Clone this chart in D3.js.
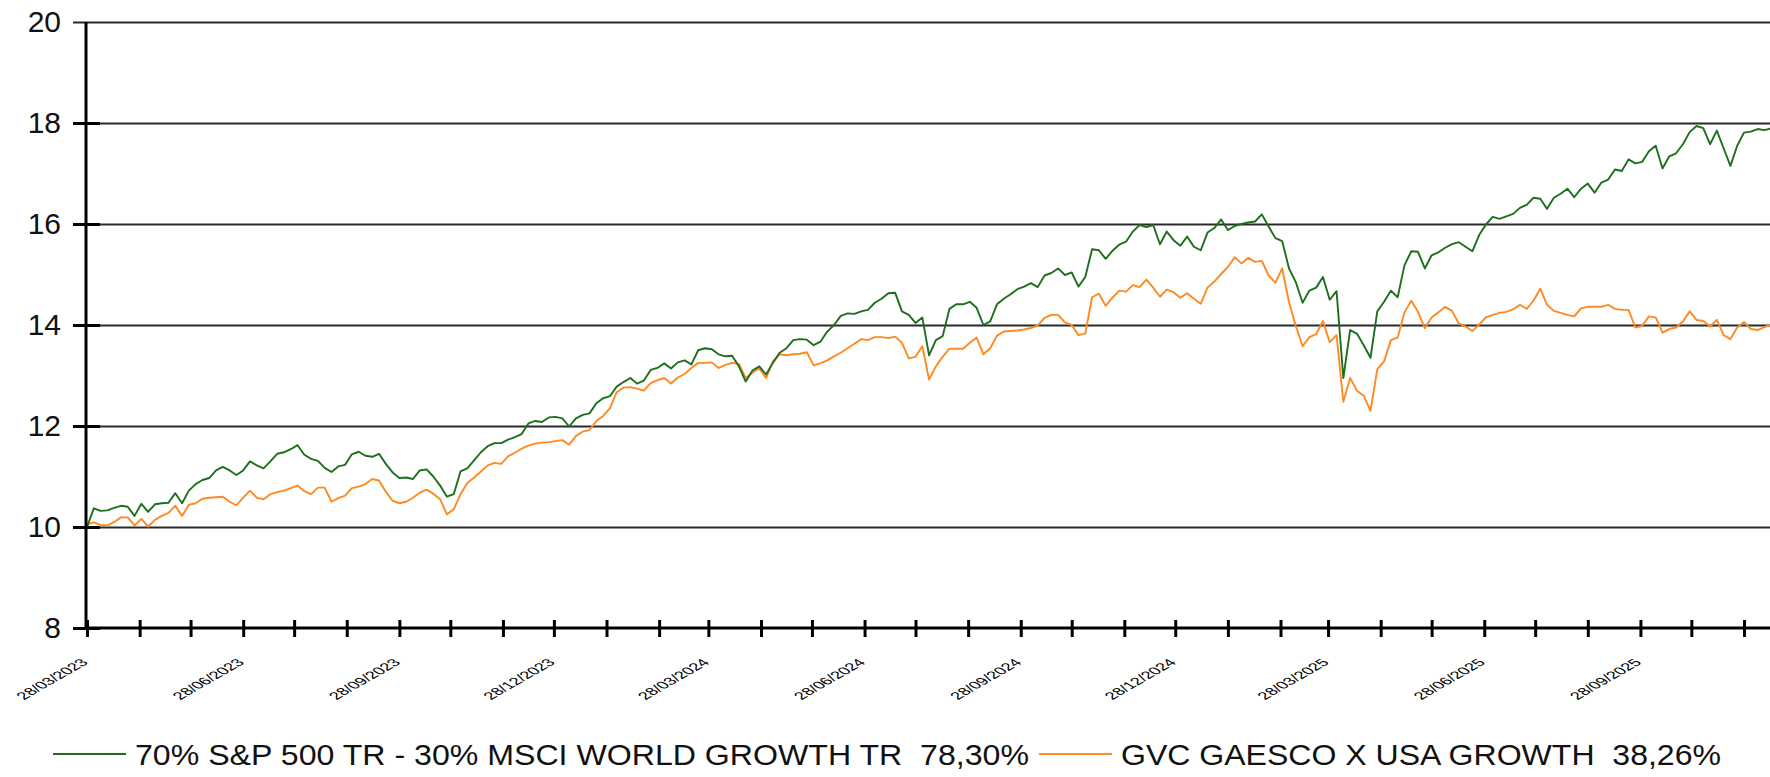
<!DOCTYPE html>
<html><head><meta charset="utf-8">
<script src="https://cdn.jsdelivr.net/npm/d3@7"></script>
<style>
body{margin:0;background:#fff}
svg{display:block}
text{font-family:"Liberation Sans",Arial,sans-serif}
</style>
</head><body>
<svg id="chart" width="1770" height="777"></svg>
<script>
// ---- data ----
const startDate = "2023-03-28";   // first observation
const stepDays = 4;               // sampling step of the series below
const seriesNames = ["70% S&P 500 TR - 30% MSCI WORLD GROWTH TR  78,30%", "GVC GAESCO X USA GROWTH  38,26%"];
const benchmarkValues = [
10.00,10.37,10.32,10.33,10.38,10.42,10.40,10.22,10.46,10.30,10.45,10.47,10.48,10.67,10.47,10.72,10.85,10.93,10.97,11.12,
11.19,11.12,11.03,11.12,11.30,11.22,11.16,11.30,11.45,11.48,11.54,11.62,11.43,11.35,11.31,11.17,11.09,11.20,11.23,11.44,
11.49,11.41,11.39,11.45,11.25,11.08,10.97,10.98,10.95,11.12,11.14,11.00,10.82,10.60,10.65,11.10,11.16,11.32,11.48,11.60,
11.66,11.66,11.73,11.78,11.84,12.05,12.10,12.08,12.17,12.18,12.15,11.99,12.15,12.22,12.25,12.45,12.55,12.59,12.78,12.87,
12.95,12.84,12.90,13.11,13.15,13.24,13.14,13.26,13.30,13.22,13.50,13.54,13.52,13.42,13.38,13.39,13.18,12.88,13.10,13.18,
13.02,13.25,13.45,13.54,13.70,13.72,13.71,13.60,13.67,13.87,14.00,14.18,14.23,14.22,14.27,14.30,14.44,14.52,14.63,14.64,
14.27,14.20,14.04,14.15,13.40,13.70,13.78,14.32,14.41,14.41,14.46,14.34,14.00,14.07,14.41,14.52,14.61,14.71,14.76,14.83,
14.75,14.98,15.03,15.12,14.99,15.04,14.76,14.95,15.50,15.48,15.31,15.47,15.59,15.65,15.85,15.98,15.94,15.98,15.60,15.85,
15.68,15.57,15.75,15.55,15.48,15.83,15.92,16.09,15.88,15.96,16.00,16.03,16.05,16.19,15.95,15.72,15.66,15.12,14.85,14.44,
14.68,14.74,14.95,14.50,14.67,12.95,13.90,13.83,13.60,13.35,14.27,14.46,14.68,14.55,15.18,15.46,15.45,15.12,15.38,15.44,
15.53,15.60,15.64,15.55,15.46,15.78,15.99,16.14,16.10,16.15,16.20,16.32,16.38,16.52,16.50,16.30,16.52,16.60,16.70,16.53,
16.70,16.80,16.62,16.82,16.88,17.08,17.05,17.28,17.20,17.23,17.44,17.55,17.10,17.34,17.40,17.58,17.82,17.94,17.90,17.58,
17.85,17.50,17.15,17.55,17.81,17.83,17.88,17.86,17.89];
const fundValues = [
10.05,10.09,10.04,10.03,10.10,10.19,10.19,10.03,10.16,10.01,10.14,10.22,10.28,10.42,10.22,10.44,10.47,10.56,10.58,10.59,
10.60,10.50,10.43,10.58,10.72,10.58,10.55,10.65,10.69,10.72,10.77,10.82,10.71,10.65,10.78,10.78,10.50,10.57,10.62,10.77,
10.80,10.85,10.95,10.92,10.70,10.52,10.47,10.50,10.58,10.68,10.74,10.66,10.55,10.25,10.35,10.65,10.87,10.98,11.10,11.22,
11.27,11.25,11.40,11.47,11.55,11.61,11.65,11.67,11.68,11.70,11.72,11.63,11.80,11.89,11.92,12.10,12.20,12.35,12.67,12.76,
12.77,12.74,12.70,12.85,12.91,12.95,12.84,12.96,13.03,13.15,13.25,13.25,13.26,13.15,13.21,13.25,13.23,12.95,13.06,13.14,
12.95,13.28,13.42,13.40,13.42,13.43,13.46,13.20,13.24,13.30,13.38,13.45,13.54,13.63,13.72,13.70,13.76,13.76,13.74,13.77,
13.65,13.34,13.37,13.58,12.92,13.18,13.37,13.53,13.53,13.53,13.65,13.75,13.42,13.54,13.79,13.87,13.88,13.89,13.91,13.94,
13.99,14.14,14.20,14.20,14.05,14.00,13.80,13.83,14.55,14.62,14.38,14.54,14.68,14.66,14.79,14.75,14.90,14.74,14.56,14.70,
14.65,14.54,14.63,14.52,14.42,14.74,14.86,15.01,15.15,15.34,15.22,15.33,15.25,15.27,14.98,14.84,15.12,14.45,13.98,13.58,
13.76,13.82,14.08,13.66,13.80,12.48,12.95,12.70,12.60,12.30,13.12,13.28,13.70,13.75,14.25,14.48,14.26,13.94,14.15,14.25,
14.36,14.28,14.03,13.97,13.88,14.01,14.15,14.20,14.24,14.26,14.31,14.40,14.32,14.48,14.72,14.40,14.28,14.24,14.20,14.17,
14.33,14.36,14.36,14.36,14.40,14.32,14.30,14.30,13.95,13.98,14.17,14.15,13.85,13.92,13.95,14.07,14.27,14.10,14.08,13.97,
14.10,13.80,13.72,13.95,14.06,13.92,13.90,13.96,14.00];
const yTickValues = [8, 10, 12, 14, 16, 18, 20];
const xTickLabels = ["28/03/2023","28/06/2023","28/09/2023","28/12/2023","28/03/2024","28/06/2024",
                     "28/09/2024","28/12/2024","28/03/2025","28/06/2025","28/09/2025"];
const seriesColors = ["#1e6e1e", "#ff8a22"];

// ---- build ----
const W = 1770, H = 777;
const parse = d3.timeParse("%Y-%m-%d");
const parseLbl = d3.timeParse("%d/%m/%Y");
const t0 = parse(startDate);
const dates = benchmarkValues.map((_, i) => d3.timeDay.offset(t0, i * stepDays));
const monthTicks = d3.range(33).map(k => new Date(2023, 2 + k, 28));

const x = d3.scaleTime().domain([parseLbl("28/03/2023"), parseLbl("28/11/2025")]).range([87, 1744]);
const y = d3.scaleLinear().domain([8, 20]).range([628, 22]);

const svg = d3.select("#chart");
svg.append("rect").attr("width", W).attr("height", H).attr("fill", "#fff");

// gridlines
const grid = svg.append("g").attr("transform", "translate(73,0)")
  .call(d3.axisLeft(y).tickValues(yTickValues.filter(v => v > 8)).tickSize(-(W - 73)).tickFormat(""));
grid.select(".domain").remove();
grid.selectAll("line").attr("stroke", "#2a2a2a").attr("stroke-width", 1.8);

// y axis ticks + labels
const ya = svg.append("g").attr("transform", "translate(100,0)")
  .call(d3.axisLeft(y).tickValues(yTickValues).tickSize(27).tickPadding(12).tickFormat(d3.format("d")));
ya.select(".domain").remove();
ya.selectAll("line").attr("stroke", "#000").attr("stroke-width", 3);
ya.selectAll("text").attr("font-size", 30).attr("fill", "#111")
  .attr("font-family", "'Liberation Sans', Arial, sans-serif");
ya.selectAll(".tick").filter(d => d === 20).select("line").remove();

// clip + lines
svg.append("clipPath").attr("id", "clip").append("rect")
  .attr("x", 86).attr("y", 0).attr("width", W - 86).attr("height", 628);
const line = d3.line().x((d, i) => x(dates[i])).y(d => y(d));
const plot = svg.append("g").attr("clip-path", "url(#clip)");
plot.append("path").datum(fundValues).attr("d", line)
  .attr("fill", "none").attr("stroke", seriesColors[1]).attr("stroke-width", 1.9).attr("stroke-linejoin", "round");
plot.append("path").datum(benchmarkValues).attr("d", line)
  .attr("fill", "none").attr("stroke", seriesColors[0]).attr("stroke-width", 1.9).attr("stroke-linejoin", "round");

// axis lines
svg.append("line").attr("x1", 86).attr("x2", 86).attr("y1", y(20)).attr("y2", y(8) + 2)
  .attr("stroke", "#000").attr("stroke-width", 3);
svg.append("line").attr("x1", 85).attr("x2", W).attr("y1", y(8)).attr("y2", y(8))
  .attr("stroke", "#000").attr("stroke-width", 3);

// x ticks
const xa = svg.append("g").attr("transform", "translate(0,620)")
  .call(d3.axisBottom(x).tickValues(monthTicks).tickSize(17).tickFormat(""));
xa.select(".domain").remove();
xa.selectAll("line").attr("stroke", "#000").attr("stroke-width", 3);

// x labels
const lbl = svg.append("g");
xTickLabels.forEach(s => {
  const px = x(parseLbl(s));
  lbl.append("text")
    .attr("transform", `translate(${px + 2},663) scale(1.75,1) rotate(-45)`)
    .attr("text-anchor", "end").attr("font-size", 10.5).attr("fill", "#000").text(s);
});

// legend
const leg = [
  {name: seriesNames[0], color: seriesColors[0], x1: 53, x2: 126, tx: 135, len: 894},
  {name: seriesNames[1], color: seriesColors[1], x1: 1039, x2: 1112, tx: 1121, len: 600}
];
const lg = svg.append("g");
leg.forEach(l => {
  lg.append("line").attr("x1", l.x1).attr("x2", l.x2).attr("y1", 754).attr("y2", 754)
    .attr("stroke", l.color).attr("stroke-width", 2);
  lg.append("text").attr("x", l.tx).attr("y", 765).attr("font-size", 29).attr("fill", "#111")
    .attr("textLength", l.len).attr("lengthAdjust", "spacingAndGlyphs")
    .attr("xml:space", "preserve").style("white-space", "pre").text(l.name);
});
</script>
</body></html>
